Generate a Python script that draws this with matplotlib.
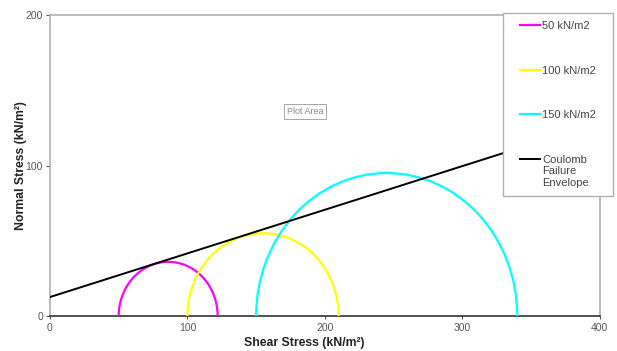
import matplotlib.pyplot as plt
import numpy as np
from matplotlib.legend_handler import HandlerLine2D
from matplotlib.lines import Line2D
from matplotlib.patches import Arc

plt.rcParams['font.family'] = ['Liberation Sans', 'DejaVu Sans']

# Mohr circles: minor / major principal stress (kN/m2)
sigma3 = [50, 100, 150]
sigma1 = [122, 210, 340]
circle_labels = ["50 kN/m2", "100 kN/m2", "150 kN/m2"]
circle_colors = ["#ff00ff", "#ffff00", "#00ffff"]

# Coulomb failure envelope end points
envelope_x = [0, 400]
envelope_y = [12.6, 128.6]

x_ticks = [0, 100, 200, 300, 400]
y_ticks = [0, 100, 200]


class TopLineHandler(HandlerLine2D):
    # put the handle beside the first line of a multi-line label
    def create_artists(self, legend, orig_handle, xdescent, ydescent,
                       width, height, fontsize, trans):
        arts = super().create_artists(legend, orig_handle, xdescent, ydescent,
                                      width, height, fontsize, trans)
        for a in arts:
            a.set_ydata(np.asarray(a.get_ydata()) + fontsize * 1.15)
        return arts


fig = plt.figure(figsize=(6.17, 3.51), dpi=100)
ax = fig.add_axes([0.081, 0.0997, 0.891, 0.8575])

handles = []
for s3, s1, lab, col in zip(sigma3, sigma1, circle_labels, circle_colors):
    center = (s3 + s1) / 2
    diam = s1 - s3
    ax.add_patch(Arc((center, 0), diam, diam, theta1=0, theta2=180,
                     color=col, lw=1.6, zorder=3))
    handles.append(Line2D([], [], color=col, lw=1.6, label=lab))

ax.plot(envelope_x, envelope_y, color="black", lw=1.4, zorder=4)
envelope_handle = Line2D([], [], color="black", lw=1.4,
                         label="Coulomb\nFailure\nEnvelope")
handles.append(envelope_handle)

ax.set_xlim(0, 400)
ax.set_ylim(0, 200)
ax.set_xticks(x_ticks)
ax.set_yticks(y_ticks)
ax.tick_params(axis="both", labelsize=7.5, colors="#555555", length=3, width=0.8)
ax.tick_params(axis="x", length=2, pad=3)
ax.tick_params(axis="y", pad=2)
for side in ["top", "right", "left"]:
    ax.spines[side].set_color("#b0b0b0")
    ax.spines[side].set_linewidth(1.2)
ax.spines["bottom"].set_color("#333333")
ax.spines["bottom"].set_linewidth(1.2)

ax.set_xlabel("Shear Stress (kN/m²)", fontsize=8.8, fontweight="bold",
              labelpad=3, color="#222222")
ax.xaxis.label.set_x(0.462)
ax.set_ylabel("Normal Stress (kN/m²)", fontsize=8.8, fontweight="bold",
              labelpad=-1, color="#222222")

ax.text(0.4636, 0.679, "Plot Area", transform=ax.transAxes, fontsize=6.5,
        color="#888888", ha="center", va="center",
        bbox=dict(boxstyle="square,pad=0.3", fc="white", ec="#999999", lw=0.6))

hmap = {h: HandlerLine2D(xpad=0.8) for h in handles[:-1]}
hmap[envelope_handle] = TopLineHandler(xpad=0.8)
leg = fig.legend(handles=handles, handler_map=hmap, loc="upper left",
                 bbox_to_anchor=(0.815, 0.444, 0.178, 0.519), mode="expand",
                 fontsize=8, frameon=True, fancybox=False, framealpha=1,
                 labelspacing=3.1, handlelength=2.6, handletextpad=0.2,
                 borderpad=0.75, borderaxespad=0)
leg.get_frame().set_edgecolor("#b0b0b0")
leg.get_frame().set_linewidth(1.0)
for t in leg.get_texts():
    t.set_color("#444444")

fig.savefig("out.png", dpi=100)
